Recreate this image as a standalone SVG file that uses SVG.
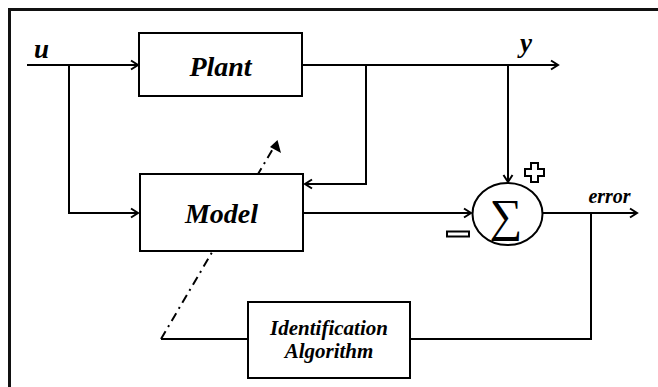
<svg xmlns="http://www.w3.org/2000/svg" width="658" height="387" viewBox="0 0 658 387">
<defs>
<marker id="arr" markerWidth="12" markerHeight="12" refX="10" refY="6" orient="auto" markerUnits="userSpaceOnUse">
<path d="M3,1.5 L10,6 L3,10.5" fill="none" stroke="#000" stroke-width="2"/>
</marker>
</defs>
<style>
.box{fill:#fff;stroke:#000;stroke-width:2}
.ln{fill:none;stroke:#000;stroke-width:2}
.sign{fill:#fff;stroke:#000;stroke-width:2}
</style>
<rect width="658" height="387" fill="#fff"/>
<g id="frame">
<line x1="9" y1="9.5" x2="658" y2="9.5" stroke="#111" stroke-width="3"/>
<line x1="9.5" y1="8" x2="9.5" y2="387" stroke="#111" stroke-width="3"/>
</g>
<g id="connectors">
<path class="ln" d="M27,65 H138" marker-end="url(#arr)"/>
<path class="ln" d="M69,65 V213 H138" marker-end="url(#arr)"/>
<path class="ln" d="M302,65 H558" marker-end="url(#arr)"/>
<path class="ln" d="M366,65 V184 H305" marker-end="url(#arr)"/>
<path class="ln" d="M508,65 V182" marker-end="url(#arr)"/>
<path class="ln" d="M304,213 H471" marker-end="url(#arr)"/>
<path class="ln" d="M543,213 H637" marker-end="url(#arr)"/>
<path class="ln" d="M591,213 V339 H411"/>
<path class="ln" d="M248,339 H161"/>
<path class="ln" d="M161,339 L274,147" stroke-dasharray="9,5,2,5"/>
<path d="M277.5,140 L281,153 L270,147 Z" fill="#000"/>
</g>
<g font-family="'Liberation Serif', serif" font-weight="bold" font-style="italic" fill="#000">
<g id="u-label"><text x="34" y="58" font-size="27">u</text></g>
<g id="y-label"><text x="520" y="52" font-size="27">y</text></g>
<g id="error-label"><text x="609.5" y="203" font-size="20" text-anchor="middle">error</text></g>
<g id="plant">
<rect class="box" x="139" y="33" width="163" height="63"/>
<text x="220.5" y="76" font-size="28" text-anchor="middle">Plant</text>
</g>
<g id="model">
<rect class="box" x="140" y="174" width="163" height="77"/>
<text x="221.5" y="223" font-size="28" text-anchor="middle">Model</text>
</g>
<g id="identification">
<rect class="box" x="248" y="302" width="162" height="76"/>
<text x="329" y="335" font-size="21" text-anchor="middle">Identification</text>
<text x="329" y="358" font-size="21" text-anchor="middle">Algorithm</text>
</g>
</g>
<g id="sum">
<ellipse class="box" cx="507.5" cy="214" rx="35" ry="31"/>
<text x="506" y="231" font-family="'Liberation Serif', serif" font-size="46" text-anchor="middle">∑</text>
<path class="sign" d="M531,163 h7 v6 h6 v7 h-6 v6 h-7 v-6 h-6 v-7 h6 z"/>
<rect class="sign" x="447" y="231.5" width="22" height="5"/>
</g>
</svg>
